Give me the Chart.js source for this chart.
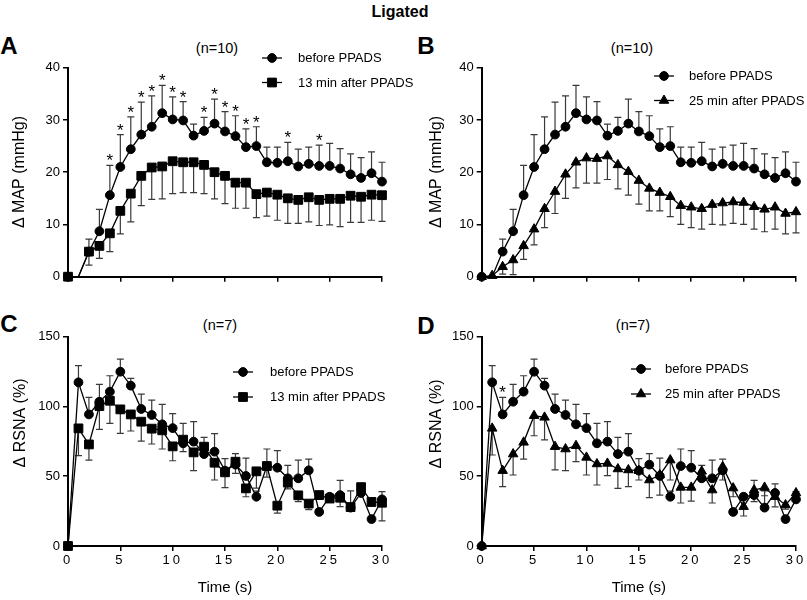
<!DOCTYPE html>
<html>
<head>
<meta charset="utf-8">
<script src="https://cdn.jsdelivr.net/npm/chart.js@4.4.1/dist/chart.umd.min.js"></script>
<style>
  html,body{margin:0;padding:0;background:#fff;}
  body{width:807px;height:600px;position:relative;overflow:hidden;font-family:"Liberation Sans",Arial,sans-serif;color:#000;}
  canvas{position:absolute;left:0;top:0;}
  .t{position:absolute;transform:translate(-50%,-50%);white-space:nowrap;line-height:1;}
  .big{font-weight:bold;font-size:24px;}
  .n{font-size:14.5px;}
</style>
</head>
<body>
<div class="t" style="left:400px;top:12px;font-weight:bold;font-size:16px;">Ligated</div>
<div class="t big" style="left:9px;top:46px;">A</div>
<div class="t big" style="left:426px;top:46px;">B</div>
<div class="t big" style="left:9px;top:324px;">C</div>
<div class="t big" style="left:426px;top:326px;">D</div>
<div class="t n" style="left:217px;top:48px;">(n=10)</div>
<div class="t n" style="left:632px;top:48px;">(n=10)</div>
<div class="t n" style="left:220px;top:325px;">(n=7)</div>
<div class="t n" style="left:633px;top:325px;">(n=7)</div>
<canvas id="cA" width="807" height="600"></canvas>
<canvas id="cB" width="807" height="600"></canvas>
<canvas id="cC" width="807" height="600"></canvas>
<canvas id="cD" width="807" height="600"></canvas>
<script>
// ---------- data ----------
const time = [0,1,2,3,4,5,6,7,8,9,10,11,12,13,14,15,16,17,18,19,20,21,22,23,24,25,26,27,28,29,30];

// Delta MAP (mmHg)
const mapBefore    = [0,0,4.8,8.7,15.6,21.0,24.4,27.2,28.7,31.3,30.1,29.9,27.0,27.9,29.3,27.8,26.9,24.8,25.0,21.9,21.8,22.1,21.1,21.6,21.2,21.2,20.7,19.6,18.9,19.8,18.2];
const mapBeforeSem = [0,0,2.4,4.2,5.7,6.2,6.2,6.2,5.9,5.3,4.3,3.6,2.2,2.6,4.7,3.8,3.9,3.5,3.7,2.9,3.0,3.6,3.3,3.2,4.0,4.3,3.8,3.9,3.9,4.1,3.7];
const map13        = [0,0,4.8,5.9,8.3,12.6,15.9,19.3,20.9,21.1,22.1,21.9,21.9,21.4,20.0,19.3,18.0,18.0,15.8,16.1,15.7,15.0,14.7,15.2,14.7,14.9,14.9,15.5,15.3,15.7,15.6];
const map13Sem     = [0,0,2.6,2.4,3.5,4.4,5.4,5.7,6.1,6.2,6.2,5.8,5.8,5.5,5.1,5.3,4.9,4.9,4.5,4.5,4.9,4.8,4.5,4.7,4.9,5.0,5.3,5.1,4.9,4.9,5.0];
const map25        = [0,0.2,1.9,3.2,5.9,9.1,13.0,16.3,19.6,21.9,22.7,22.6,23.1,21.4,20.1,18.4,16.9,16.1,15.3,13.6,13.3,13.0,13.8,14.1,14.3,14.2,13.4,12.9,13.3,12.1,12.4];
const map25Sem     = [0,0,1.4,2.8,2.6,3.0,3.6,4.2,4.6,4.9,4.8,4.7,4.5,4.6,4.5,4.5,4.3,3.5,3.8,3.6,3.9,3.9,3.8,4.2,4.1,4.2,4.3,4.3,4.2,3.9,4.0];
const mapStars     = [4,5,6,7,8,9,10,11,13,14,15,16,17,18,21,24];
const mapHiddenMarkers = [1];   // times where the "before"/"13 min" MAP markers are not shown

// Delta RSNA (%)
const rsnaBefore    = [0,117.3,94.3,103.4,110.6,124.9,114.9,98.2,93.9,87.2,84.5,73.6,74.8,65.9,67.6,54.0,58.3,50.2,35.3,57.3,56.1,48.5,48.5,54.2,24.4,35.3,36.5,27.5,38.0,19.3,33.4];
const rsnaBeforeSem = [0,11.9,12.2,12.4,11.4,9.1,5.2,10.7,10.7,14.3,10.3,14.3,14.3,12.0,12.9,8.6,7.9,12.8,4.0,12.2,12.2,9.3,13.1,8.1,2.0,2.0,10.5,12.0,6.5,2.0,5.5];
const rsna13        = [0,84.3,72.8,100.3,104.1,97.9,94.3,89.1,84.1,82.9,71.4,76.2,67.1,71.2,59.7,52.8,60.4,41.3,53.5,57.3,28.9,45.4,36.3,30.4,36.5,34.0,34.6,27.9,42.2,31.6,31.0];
const rsna13Sem     = [0,19.6,11.2,16.7,16.2,17.2,11.9,13.9,11.0,13.4,10.3,8.6,13.1,5.0,12.4,11.0,8.3,6.0,12.0,8.0,5.3,4.5,4.5,4.3,3.0,2.0,6.4,3.0,3.0,3.0,13.0];
const rsna25        = [0,84.3,54.0,65.9,74.3,93.4,92.2,71.2,69.5,71.9,63.5,58.8,59.2,55.2,54.5,54.0,47.3,50.9,61.6,42.0,42.0,53.5,40.1,56.8,41.5,28.2,40.1,42.0,35.3,29.4,38.0];
const rsna25Sem     = [0,19.1,11.5,15.0,12.0,14.4,16.2,16.7,15.5,11.5,12.6,15.1,8.8,13.9,12.0,6.7,12.7,14.4,14.3,11.2,9.8,5.0,9.3,9.5,6.2,6.7,8.3,6.0,7.3,3.0,3.0];
const rsnaStars     = [2];

const xTicks = [0,5,10,15,20,25,30];
const mapTicks = [0,10,20,30,40];
const rsnaTicks = [0,50,100,150];

// ---------- plugins ----------
const FONT = '"Liberation Sans", Arial, sans-serif';

const errPlugin = {
  id: 'errbars',
  beforeDatasetsDraw(chart) {
    const {ctx} = chart; const x = chart.scales.x, y = chart.scales.y;
    ctx.save();
    ctx.strokeStyle = '#3a3a3a'; ctx.lineWidth = 1.2;
    chart.data.datasets.forEach(ds => {
      if (!ds.err) return;
      ds.data.forEach((p, i) => {
        const e = ds.err[i]; if (!e) return;
        const px = x.getPixelForValue(p.x);
        const y0 = y.getPixelForValue(p.y);
        const y1 = y.getPixelForValue(p.y + ds.errDir * e);
        ctx.beginPath();
        ctx.moveTo(px, y0); ctx.lineTo(px, y1);
        ctx.moveTo(px - 3.5, y1); ctx.lineTo(px + 3.5, y1);
        ctx.stroke();
      });
    });
    ctx.restore();
  },
  afterDatasetsDraw(chart) {
    const {ctx} = chart; const x = chart.scales.x, y = chart.scales.y;
    ctx.save();
    ctx.fillStyle = '#000'; ctx.font = '17px ' + FONT; ctx.textAlign = 'center'; ctx.textBaseline = 'alphabetic';
    chart.data.datasets.forEach(ds => {
      if (!ds.stars) return;
      ds.stars.forEach(t => {
        const i = ds.data.findIndex(p => p.x === t);
        if (i < 0) return;
        const top = ds.data[i].y + (ds.err ? ds.err[i] : 0);
        ctx.fillText('*', x.getPixelForValue(t), y.getPixelForValue(top) + 1);
      });
    });
    ctx.restore();
  },
  afterDraw(chart, args, opts) {
    const {ctx} = chart;
    ctx.save();
    if (opts.yTitle) {
      ctx.translate(opts.yTitle.x, opts.yTitle.y);
      ctx.rotate(-Math.PI / 2);
      ctx.font = '16px ' + FONT; ctx.fillStyle = '#000';
      ctx.textAlign = 'center'; ctx.textBaseline = 'middle';
      ctx.fillText(opts.yTitle.text, 0, 0);
      ctx.setTransform(1,0,0,1,0,0);
    }
    if (opts.legend) {
      const L = opts.legend;
      chart.data.datasets.forEach((ds, k) => {
        const yy = L.y + k * L.dy;
        ctx.strokeStyle = '#000'; ctx.lineWidth = 1.3;
        ctx.beginPath(); ctx.moveTo(L.x, yy); ctx.lineTo(L.x + 20, yy); ctx.stroke();
        ctx.fillStyle = '#000'; ctx.lineWidth = 1;
        Chart.helpers.drawPoint(ctx, {pointStyle: ds.pointStyle, radius: ds.legendRadius, rotation: 0, borderWidth: 1}, L.x + 10, yy);
        ctx.font = '13px ' + FONT; ctx.textAlign = 'left'; ctx.textBaseline = 'middle';
        ctx.fillText(ds.label, L.tx, yy + 0.5);
      });
    }
    ctx.restore();
  },
  afterUpdate(chart, args, opts) {
    const s = chart.scales.x;
    if (opts.spaced && s && !s._spacedPatch) {
      const orig = s.drawLabels;
      s.drawLabels = function(area) {
        const c = this.ctx; c.save();
        try { c.letterSpacing = '3px'; } catch(e) {}
        orig.call(this, area);
        c.restore();
      };
      s._spacedPatch = true;
    }
  }
};

function series(label, vals, sem, dir, style, radius, stars, hidden) {
  const radii = time.map(t => (hidden && hidden.includes(t)) ? 0 : radius);
  return {
    label,
    data: time.map((t, i) => ({x: t, y: vals[i]})),
    err: sem, errDir: dir, stars, legendRadius: radius,
    borderColor: '#000', backgroundColor: '#000', borderWidth: 1.3,
    pointStyle: style, pointRadius: radii, pointBorderWidth: 1,
    pointBackgroundColor: '#000', pointBorderColor: '#000',
    tension: 0, fill: false, clip: false
  };
}

function panel(id, o) {
  new Chart(document.getElementById(id), {
    type: 'line',
    data: {datasets: o.datasets},
    options: {
      responsive: false, animation: false, devicePixelRatio: 1,
      layout: {padding: o.padding},
      plugins: {
        legend: {display: false}, tooltip: {enabled: false},
        errbars: {yTitle: o.yTitle, legend: o.legend, spaced: o.showX}
      },
      scales: {
        x: {
          type: 'linear', min: 0, max: 30,
          afterFit: s => { s.height = o.xHeight; },
          afterBuildTicks: s => { s.ticks = xTicks.map(v => ({value: v})); },
          border: {display: true, color: '#000', width: 2},
          grid: {display: true, drawOnChartArea: false, drawTicks: true, tickLength: 5, color: '#000', lineWidth: 1.5},
          ticks: {display: o.showX, color: '#000', padding: 2, maxRotation: 0, font: {family: FONT, size: 13}},
          title: {display: o.showX, text: 'Time (s)', color: '#000', font: {family: FONT, size: 15}, padding: {top: 0, bottom: 3}}
        },
        y: {
          min: 0, max: o.yMax,
          afterFit: s => { s.width = 68; },
          afterBuildTicks: s => { s.ticks = o.yTicks.map(v => ({value: v})); },
          border: {display: true, color: '#000', width: 2},
          grid: {display: true, drawOnChartArea: false, drawTicks: true, tickLength: 5, color: '#000', lineWidth: 1.5},
          ticks: {color: '#000', padding: 3, font: {family: FONT, size: 13}}
        }
      }
    },
    plugins: [errPlugin]
  });
}

panel('cA', {
  padding: {left: 0, right: 425, top: 67.7, bottom: 303.3}, xHeight: 20, showX: false,
  yMax: 40, yTicks: mapTicks,
  yTitle: {text: 'Δ MAP (mmHg)', x: 20, y: 172},
  legend: {x: 262, y: 58, dy: 24.5, tx: 298},
  datasets: [
    series('before PPADS', mapBefore, mapBeforeSem, 1, 'circle', 4.4, mapStars, mapHiddenMarkers),
    series('13 min after PPADS', map13, map13Sem, -1, 'rect', 6.2, null, mapHiddenMarkers)
  ]
});
panel('cB', {
  padding: {left: 413.7, right: 11, top: 67.7, bottom: 303.3}, xHeight: 20, showX: false,
  yMax: 40, yTicks: mapTicks,
  yTitle: {text: 'Δ MAP (mmHg)', x: 437, y: 172},
  legend: {x: 654, y: 76, dy: 24.5, tx: 689},
  datasets: [
    series('before PPADS', mapBefore, mapBeforeSem, 1, 'circle', 4.4, null, mapHiddenMarkers),
    series('25 min after PPADS', map25, map25Sem, -1, 'triangle', 5.5)
  ]
});
panel('cC', {
  padding: {left: 0, right: 425, top: 336.7, bottom: 0}, xHeight: 54, showX: true,
  yMax: 150, yTicks: rsnaTicks,
  yTitle: {text: 'Δ RSNA (%)', x: 21, y: 423},
  legend: {x: 233, y: 372, dy: 25, tx: 270},
  datasets: [
    series('before PPADS', rsnaBefore, rsnaBeforeSem, 1, 'circle', 4.4),
    series('13 min after PPADS', rsna13, rsna13Sem, -1, 'rect', 6.2)
  ]
});
panel('cD', {
  padding: {left: 413.7, right: 11, top: 336.7, bottom: 0}, xHeight: 54, showX: true,
  yMax: 150, yTicks: rsnaTicks,
  yTitle: {text: 'Δ RSNA (%)', x: 437, y: 424},
  legend: {x: 631, y: 369, dy: 25, tx: 665},
  datasets: [
    series('before PPADS', rsnaBefore, rsnaBeforeSem, 1, 'circle', 4.4, rsnaStars),
    series('25 min after PPADS', rsna25, rsna25Sem, -1, 'triangle', 5.5)
  ]
});
</script>
</body>
</html>
